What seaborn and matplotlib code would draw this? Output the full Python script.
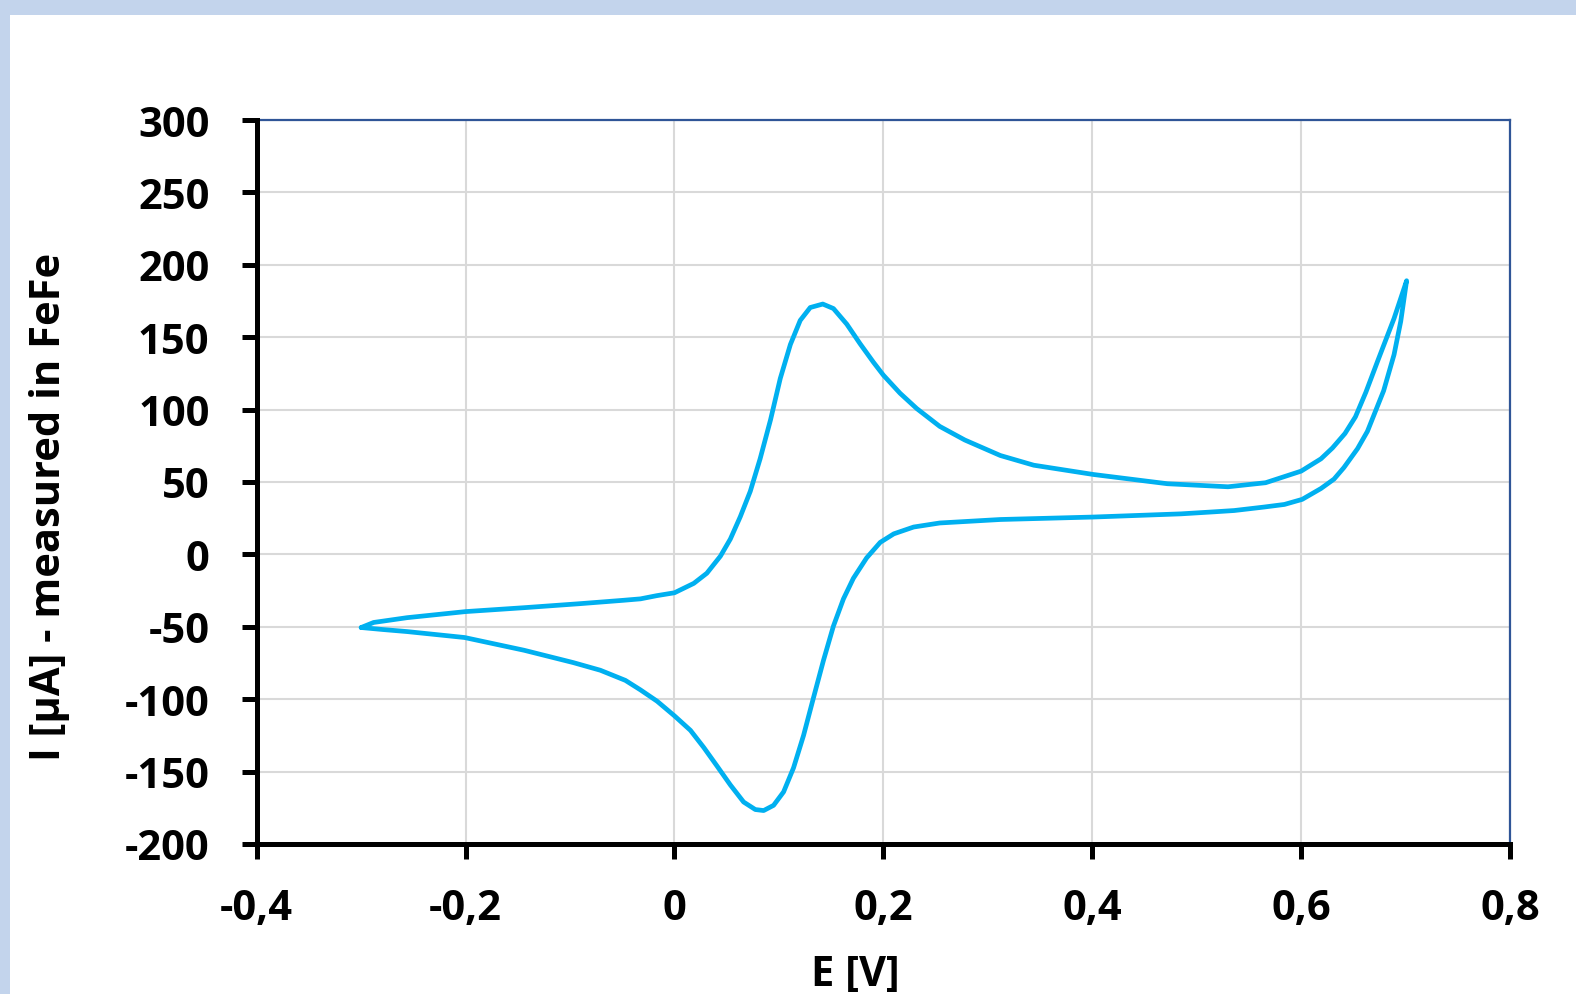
import matplotlib
matplotlib.use("Agg")
import matplotlib.pyplot as plt
from matplotlib.patches import Rectangle
import numpy as np
import pandas as pd
import seaborn as sns

# ---- data (cyclic voltammogram) ----
forward_E = [-0.300, -0.288, -0.256, -0.200, -0.144, -0.090, -0.049, -0.0325, -0.017, 0.000,
             0.0185, 0.031, 0.044, 0.0535, 0.063, 0.0726, 0.082, 0.092, 0.1013, 0.111,
             0.1204, 0.130, 0.142, 0.1522, 0.165, 0.1777, 0.1904, 0.200, 0.216, 0.232,
             0.254, 0.278, 0.312, 0.344, 0.401, 0.472, 0.530, 0.566, 0.600, 0.619,
             0.630, 0.642, 0.652, 0.662, 0.673, 0.681, 0.689, 0.695, 0.701]
forward_I = [-50.5, -47.0, -43.7, -39.5, -36.8, -34.0, -31.7, -30.7, -28.5, -26.5,
             -20.0, -13.0, -1.2, 10.6, 26.0, 43.6, 66.0, 93.0, 121.5, 145.0,
             161.6, 170.5, 172.9, 169.8, 159.0, 145.5, 132.8, 123.8, 111.3, 100.7,
             88.4, 79.0, 68.3, 61.6, 55.2, 48.8, 46.7, 49.5, 57.5, 66.0,
             73.5, 83.5, 95.0, 112.0, 133.0, 148.0, 163.0, 176.0, 189.0]
reverse_E = [0.701, 0.6954, 0.689, 0.679, 0.6635, 0.654, 0.641, 0.6315, 0.619, 0.601,
             0.584, 0.5645, 0.536, 0.5166, 0.485, 0.401, 0.312, 0.254, 0.229, 0.210,
             0.197, 0.184, 0.1713, 0.1618, 0.1522, 0.1427, 0.1331, 0.1236, 0.114, 0.1045,
             0.0949, 0.0854, 0.0774, 0.0662, 0.0535, 0.0408, 0.028, 0.0153, 0.000, -0.0166,
             -0.0325, -0.047, -0.071, -0.097, -0.144, -0.201, -0.256, -0.279, -0.300]
reverse_I = [189.0, 161.0, 138.0, 113.0, 85.0, 73.0, 60.0, 52.0, 45.5, 38.0,
             34.5, 32.7, 30.3, 29.4, 28.0, 25.8, 24.1, 21.7, 18.9, 14.2,
             8.3, -2.4, -16.5, -30.7, -49.5, -73.1, -99.0, -125.0, -147.4, -164.0,
             -173.3, -176.9, -176.2, -171.0, -159.2, -146.2, -133.3, -121.5, -111.5, -101.4,
             -93.6, -87.0, -80.0, -74.7, -66.2, -57.4, -53.3, -51.9, -50.5]

x_ticks = [-0.4, -0.2, 0.0, 0.2, 0.4, 0.6, 0.8]
x_tick_labels = ["-0,4", "-0,2", "0", "0,2", "0,4", "0,6", "0,8"]
y_ticks = [-200, -150, -100, -50, 0, 50, 100, 150, 200, 250, 300]
y_tick_labels = ["-200", "-150", "-100", "-50", "0", "50", "100", "150", "200", "250", "300"]
x_label = "E [V]"
y_label = "I [µA] - measured in FeFe"

# ---- style ----
sns.set_theme(style="white")
plt.rcParams["font.family"] = ["Open Sans", "DejaVu Sans"]
plt.rcParams["font.weight"] = "bold"

W, H = 1576, 995
fig = plt.figure(figsize=(W / 100, H / 100), dpi=100, facecolor="#C3D4EC")
fig.patches.append(Rectangle((10 / W, 0), 1 - 10 / W, (H - 16) / H,
                             transform=fig.transFigure, facecolor="white",
                             edgecolor="none", zorder=-5))

ax = fig.add_axes([256.7 / W, (H - 845) / H, (1510 - 256.7) / W, (845 - 121) / H])
ax.set_zorder(2)
ax.set_facecolor("white")

E = forward_E + reverse_E[1:]
I = forward_I + reverse_I[1:]
df = pd.DataFrame({"E": E, "I": I})

sns.lineplot(data=df, x="E", y="I", sort=False, estimator=None, ax=ax,
             color="#00B0F0", linewidth=3.4, solid_joinstyle="round",
             solid_capstyle="round", zorder=3)

ax.set_xlim(-0.4, 0.8)
ax.set_ylim(-200, 300)
ax.set_xticks(x_ticks)
ax.set_xticklabels(x_tick_labels)
ax.set_yticks(y_ticks)
ax.set_yticklabels(y_tick_labels)
ax.set_xlabel("")
ax.set_ylabel("")

ax.set_axisbelow(True)
ax.grid(True, color="#D9D9D9", linewidth=1.5)

for s in ["left", "bottom"]:
    ax.spines[s].set_color("black")
    ax.spines[s].set_linewidth(3.6)
    ax.spines[s].set_zorder(4)
for s in ["top", "right"]:
    ax.spines[s].set_color("#2F5597")
    ax.spines[s].set_linewidth(1.6)
    ax.spines[s].set_visible(True)

ax.tick_params(axis="both", which="major", direction="out", length=11, width=3.6,
               color="black", labelsize=30, labelcolor="black")
ax.tick_params(axis="x", pad=21, bottom=True, top=False)
ax.tick_params(axis="y", pad=23, left=True, right=False)
for lab in ax.get_xticklabels() + ax.get_yticklabels():
    lab.set_fontweight("bold")

fig.text(855 / W, 1 - 976 / H, x_label, ha="center", va="center",
         fontsize=30, fontweight="bold", color="black")
fig.text(50 / W, 1 - 507 / H, y_label, ha="center", va="center", rotation=90,
         fontsize=30, fontweight="bold", color="black")

fig.savefig("out.png", dpi=100, facecolor=fig.get_facecolor())
